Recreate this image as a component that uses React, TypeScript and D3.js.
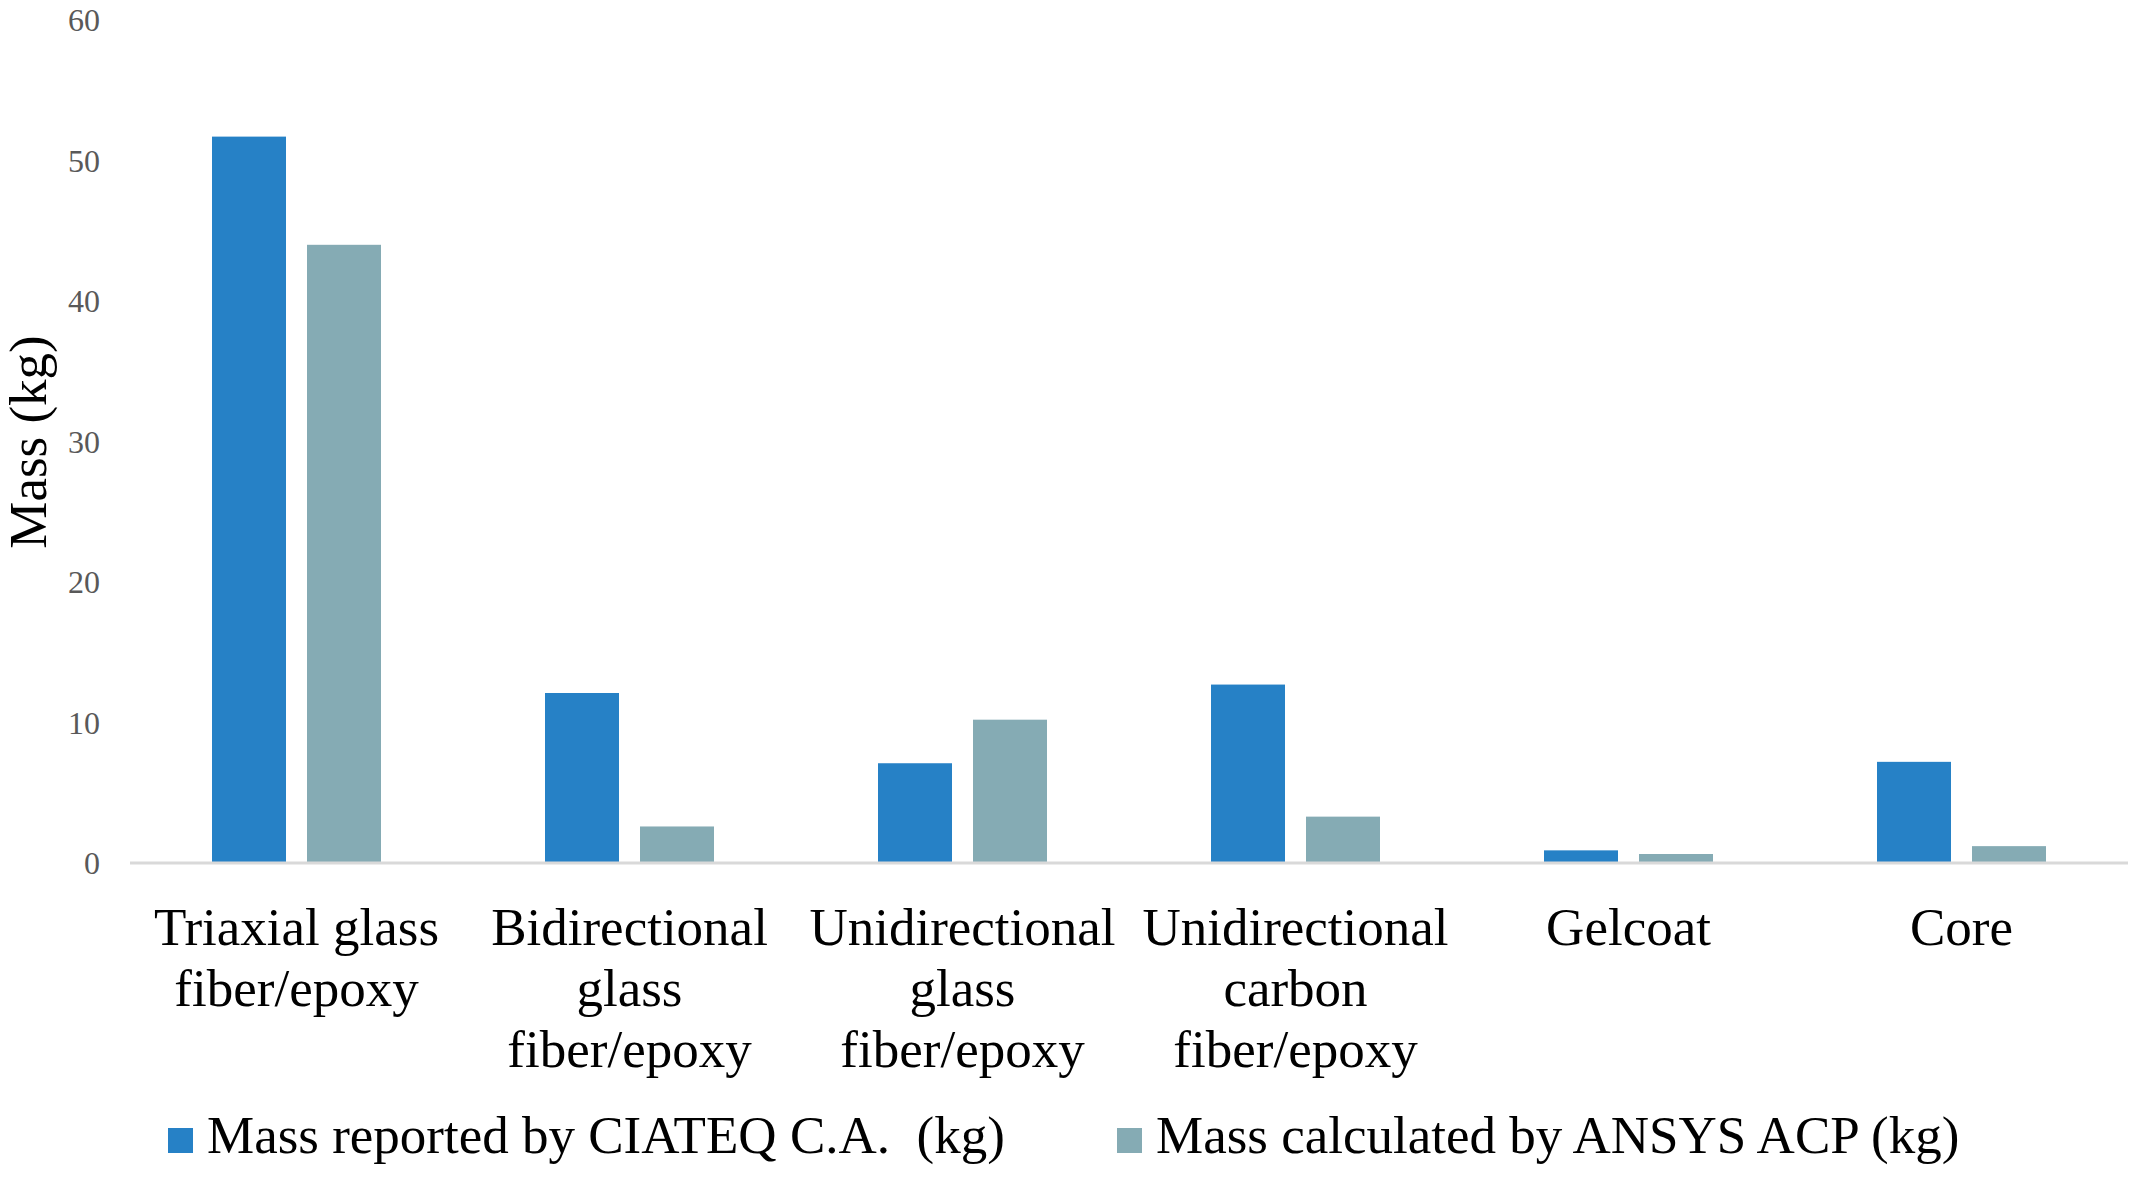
import React, { useEffect, useRef } from 'react';
import * as d3 from 'd3';

const categories = [
  ['Triaxial glass', 'fiber/epoxy'],
  ['Bidirectional', 'glass', 'fiber/epoxy'],
  ['Unidirectional', 'glass', 'fiber/epoxy'],
  ['Unidirectional', 'carbon', 'fiber/epoxy'],
  ['Gelcoat'],
  ['Core'],
];
const categoryKeys = categories.map(c => c.join(' '));

const seriesNames = ['Mass reported by CIATEQ C.A.  (kg)', 'Mass calculated by ANSYS ACP (kg)'];
const seriesColors = ['#2681C6', '#85ABB4'];

const reportedValues = [51.7, 12.1, 7.1, 12.7, 0.9, 7.2];
const calculatedValues = [44.0, 2.6, 10.2, 3.3, 0.64, 1.2];

const yTicks = [0, 10, 20, 30, 40, 50, 60];

const App: React.FC = () => {
  const ref = useRef<SVGSVGElement>(null);

  useEffect(() => {
    if (!ref.current) return;
    const svg = d3.select(ref.current);
    svg.selectAll('*').remove();

    const serif = '"Liberation Serif", "Times New Roman", serif';
    const left = 130;
    const right = 2128;
    const top = 20;
    const bottom = 863;

    const x0 = d3.scaleBand<string>().domain(categoryKeys).range([left, right]).padding(0);
    const x1 = d3.scaleBand<number>()
      .domain([0, 1])
      .range([82, 251])
      .paddingInner(0.221)
      .paddingOuter(0);
    const y = d3.scaleLinear().domain([0, 60]).range([bottom, top]);

    // y tick labels (no axis line, no grid)
    svg.append('g')
      .selectAll('text')
      .data(yTicks)
      .enter().append('text')
      .attr('x', 100)
      .attr('y', d => y(d))
      .attr('dy', '0.35em')
      .attr('text-anchor', 'end')
      .attr('font-family', serif)
      .attr('font-size', 32)
      .attr('fill', '#595959')
      .text(d => d);

    // bars
    const groups = svg.append('g')
      .selectAll('g')
      .data(categoryKeys)
      .enter().append('g')
      .attr('transform', d => `translate(${x0(d)},0)`);

    groups.selectAll('rect')
      .data((_, i) => [reportedValues[i], calculatedValues[i]])
      .enter().append('rect')
      .attr('x', (_, j) => x1(j) || 0)
      .attr('width', x1.bandwidth())
      .attr('y', d => y(d))
      .attr('height', d => bottom - y(d))
      .attr('fill', (_, j) => seriesColors[j]);

    // baseline
    svg.append('line')
      .attr('x1', left)
      .attr('x2', right)
      .attr('y1', bottom)
      .attr('y2', bottom)
      .attr('stroke', '#D9D9D9')
      .attr('stroke-width', 3);

    // category labels
    categories.forEach((lines, i) => {
      const cx = (x0(categoryKeys[i]) || 0) + x0.bandwidth() / 2;
      const t = svg.append('text')
        .attr('transform', `translate(${cx},945)`)
        .attr('text-anchor', 'middle')
        .attr('font-family', serif)
        .attr('font-size', 53)
        .attr('fill', '#000');
      lines.forEach((ln, k) => {
        t.append('tspan').attr('x', 0).attr('y', k * 61).text(ln);
      });
    });

    // y axis title
    svg.append('text')
      .attr('transform', 'translate(46,442) rotate(-90)')
      .attr('text-anchor', 'middle')
      .attr('font-family', serif)
      .attr('font-size', 53)
      .attr('fill', '#000')
      .text('Mass (kg)');

    // legend
    const legendX = [168, 1117];
    seriesNames.forEach((name, i) => {
      svg.append('rect')
        .attr('x', legendX[i])
        .attr('y', 1128)
        .attr('width', 25)
        .attr('height', 25)
        .attr('fill', seriesColors[i]);
      svg.append('text')
        .attr('x', legendX[i] + 39)
        .attr('y', 1153)
        .attr('font-family', serif)
        .attr('font-size', 53)
        .attr('fill', '#000')
        .style('white-space', 'pre')
        .text(name);
    });
  }, []);

  return (
    <div style={{ position: 'absolute', left: 0, top: 0 }}>
      <svg ref={ref} width={2141} height={1179} style={{ display: 'block', background: '#fff' }}></svg>
    </div>
  );
};

export default App;
